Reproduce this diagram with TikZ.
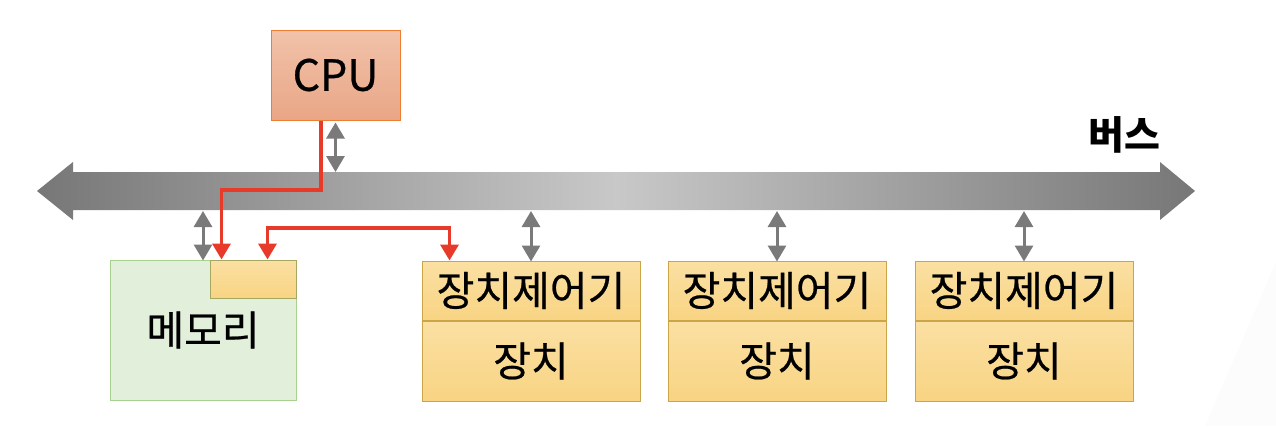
\documentclass[tikz,border=0pt]{standalone}
\usepackage{fontspec}
\newfontfamily\kr[FakeBold=0.6]{Noto Sans CJK KR}
\newfontfamily\krb{Noto Sans CJK KR}
\usetikzlibrary{arrows.meta,calc}
\definecolor{redl}{HTML}{E83A2A}
\definecolor{garr}{HTML}{7A7A7A}
\definecolor{cputop}{HTML}{F1C2AA}
\definecolor{cpubot}{HTML}{E9A686}
\definecolor{cpubd}{HTML}{ED7D31}
\definecolor{memfill}{HTML}{E2EFDA}
\definecolor{membd}{HTML}{A9D18E}
\definecolor{ytop}{HTML}{FBE0A3}
\definecolor{ybot}{HTML}{F8D483}
\definecolor{ybd}{HTML}{CCA548}
\definecolor{subbd}{HTML}{A4A862}
\definecolor{busend}{HTML}{777777}
\definecolor{busmid}{HTML}{C8C8C8}
\tikzset{
  txt/.style={font=\kr\fontsize{41}{43}\selectfont, text=black, inner sep=0pt},
  cpubox/.style={rectangle, draw=cpubd, line width=1pt, top color=cputop, bottom color=cpubot,
    minimum width=129pt, minimum height=90pt, font=\kr\fontsize{43}{45}\selectfont, inner sep=0pt},
  membox/.style={rectangle, draw=membd, line width=1pt, fill=memfill,
    minimum width=186pt, minimum height=140pt, txt},
  subbox/.style={rectangle, draw=subbd, line width=1pt, top color=ytop, bottom color=ybot,
    minimum width=86pt, minimum height=38pt, inner sep=0pt},
  ctrlbox/.style={rectangle, draw=ybd, line width=1pt, top color=ytop, bottom color=ybot,
    minimum width=218pt, minimum height=59pt, txt},
  devbox/.style={rectangle, draw=ybd, line width=1pt, top color=ytop, bottom color=ybot,
    minimum width=218pt, minimum height=80pt, txt},
  garrow/.style={draw=garr, line width=3pt,
    {Triangle[width=18pt,length=16pt]}-{Triangle[width=18pt,length=16pt]}},
  rline/.style={draw=redl, line width=3.5pt},
  rtip/.style={-{Triangle[width=18pt,length=16pt]}},
}
\begin{document}
\begin{tikzpicture}[x=1pt,y=-1pt]
\useasboundingbox (0,0) rectangle (1276,426);
% faint background corner
\fill[gray!2] (1205,426) -- (1276,262) -- (1276,426) -- cycle;
% bus
\shade[left color=busend, right color=busend, middle color=busmid]
  (37,191) -- (73,162) -- (73,172) -- (1160,172) -- (1160,162) -- (1195,191)
  -- (1160,220) -- (1160,210) -- (73,210) -- (73,220) -- cycle;
\coordinate (busN) at (0,172);
\coordinate (busS) at (0,211);
\coordinate (busM) at (0,190);
\node[font=\krb\bfseries\fontsize{39}{41}\selectfont, inner sep=0pt] (buslbl) at (1124,135) {버스};
% CPU
\node[cpubox] (cpu) at (335.5,75) {CPU};
% memory
\node[membox] (mem) at (203,330) {메모리};
\node[subbox, anchor=north east] (memsub) at (mem.north east) {};
% controllers and devices
\foreach \i/\x in {1/531,2/777,3/1024}{
  \node[ctrlbox] (dc\i) at (\x,290.5) {장치제어기};
  \node[devbox, anchor=north] (dv\i) at (dc\i.south) {장치};
}
% gray bus connectors
\draw[garrow] ([yshift=-2pt]cpu.south) -- (cpu.south |- busN);
\draw[garrow] (mem.north |- busS) -- ([yshift=-1pt]mem.north);
\foreach \i in {1,2,3}{
  \draw[garrow] (dc\i.north |- busS) -- ([yshift=-1pt]dc\i.north);
}
% red paths
\coordinate (r1a) at ([xshift=-14.5pt]cpu.south);
\coordinate (r1b) at ($(memsub.north west)+(12pt,0)$);
\draw[rline, rtip] (r1a) -- (r1a |- busM) -- (r1b |- busM) -- (r1b);
\coordinate (r2a) at ($(memsub.north west)+(58pt,0)$);
\coordinate (r2b) at ($(dc1.north west)+(28pt,0)$);
\coordinate (r2m) at (0,228);
\draw[rline, {Triangle[width=18pt,length=16pt]}-{Triangle[width=18pt,length=16pt]}]
  (r2a) -- (r2a |- r2m) -- (r2b |- r2m) -- (r2b);
\end{tikzpicture}
\end{document}
